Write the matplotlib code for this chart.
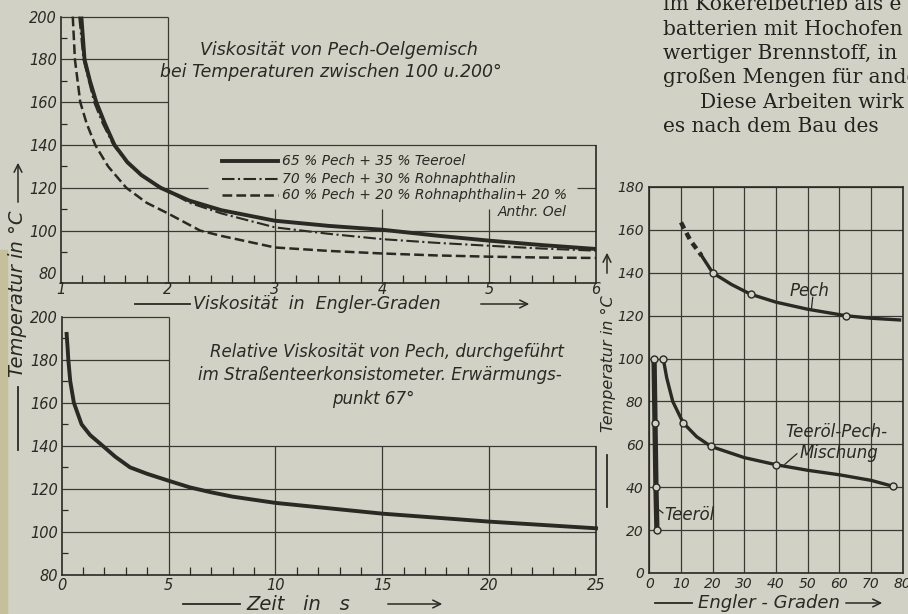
import numpy as np
import matplotlib.pyplot as plt
from matplotlib.lines import Line2D
from matplotlib.patches import FancyArrowPatch, Rectangle

plt.rcParams['lines.scale_dashes'] = False

# ---------------- data ----------------
# upper left: temperature vs. Engler degrees of pitch/oil mixtures
mix_names = ['65 % Pech + 35 % Teeroel',
             '70 % Pech + 30 % Rohnaphthalin',
             '60 % Pech + 20 % Rohnaphthalin+ 20 %']
mix_extra = 'Anthr. Oel'
mix65_e = [1.19, 1.22, 1.27, 1.33, 1.41, 1.50, 1.62, 1.75, 1.93, 2.2, 2.5, 3.0, 3.5, 4.0, 4.5, 5.0, 5.5, 6.0]
mix65_t = [200, 180, 170, 160, 150, 140, 132, 126, 120, 114, 109.5, 104.6, 102.2, 100.4, 97.7, 95.3, 93.2, 91.4]
mix70_e = [1.17, 1.21, 1.26, 1.31, 1.39, 1.49, 1.62, 1.77, 1.96, 2.2, 2.5, 3.0, 3.5, 4.0, 4.5, 5.0, 5.5, 6.0]
mix70_t = [200, 180, 170, 160, 150, 140, 131.5, 125, 119.5, 113, 108, 101.5, 98.5, 96, 94.3, 92.9, 91.6, 90.6]
mix60_e = [1.11, 1.13, 1.18, 1.24, 1.32, 1.44, 1.61, 1.8, 2.0, 2.3, 2.5, 3.0, 3.5, 4.0, 4.5, 5.0, 5.5, 6.0]
mix60_t = [200, 180, 160, 150, 140, 130, 120, 113, 108, 100, 97.5, 92.1, 90.5, 89.3, 88.4, 87.8, 87.4, 87.2]

# lower left: relative viscosity of pitch (time in s)
zeit_s = [0.23, 0.28, 0.31, 0.40, 0.57, 0.93, 1.33, 1.92, 2.5, 3.2, 4.0, 5.0, 6.0, 7.0, 8.0, 10, 12, 15, 20, 25]
zeit_t = [192, 185, 180, 170, 160, 150, 145, 140, 135, 130, 127, 123.8, 120.7, 118.4, 116.4, 113.5, 111.5, 108.5, 104.8, 101.7]

# right: pitch, tar oil and mixture
pech_e = [10, 13, 16.5, 20, 26, 32, 40, 50, 62, 70, 79]
pech_t = [163.5, 155, 148, 140, 134.5, 130, 126.3, 123, 120, 118.8, 118]
pech_marks = [3, 5, 8]
misch_e = [4.4, 5.5, 7.4, 10.7, 15, 19.5, 30, 40, 50, 60, 70, 77]
misch_t = [100, 91, 80, 70, 63.5, 59, 53.8, 50.5, 47.9, 45.8, 43.2, 40.4]
misch_marks = [0, 3, 5, 7, 11]
teer_e = [1.5, 1.8, 2.1, 2.4]
teer_t = [100, 70, 40, 20]

body_lines = ['im Kokereibetrieb als e',
              'batterien mit Hochofen',
              'wertiger Brennstoff, in',
              'großen Mengen für ande',
              'Diese Arbeiten wirk',
              'es nach dem Bau des ']

# ---------------- style ----------------
W, H = 908, 614
BG = '#d1d1c5'
INK = '#2a2a25'
GRID = '#3a3a34'
IT = dict(family='DejaVu Sans', style='italic', color=INK)

fig = plt.figure(figsize=(W / 100, H / 100), dpi=100, facecolor=BG)
fig.patches.append(Rectangle((0, 0), 7 / W, 1 - 250 / H, transform=fig.transFigure,
                             color='#c6bf9c', zorder=0))


def fx(px):
    return px / W


def fy(py):
    return 1 - py / H


def px_axes(l, t, r, b):
    ax = fig.add_axes([fx(l), fy(b), (r - l) / W, (b - t) / H])
    ax.set_facecolor('none')
    return ax


def style_ticks(ax, size):
    for lbl in ax.get_xticklabels() + ax.get_yticklabels():
        lbl.set_fontstyle('italic')
        lbl.set_fontsize(size)
        lbl.set_color(INK)


def hline_fig(x0, x1, y):
    fig.add_artist(Line2D([fx(x0), fx(x1)], [fy(y), fy(y)], color=INK, lw=1.3))


def vline_fig(x, y0, y1):
    fig.add_artist(Line2D([fx(x), fx(x)], [fy(y0), fy(y1)], color=INK, lw=1.3))


def arrow_fig(p0, p1):
    fig.add_artist(FancyArrowPatch((fx(p0[0]), fy(p0[1])), (fx(p1[0]), fy(p1[1])),
                                   transform=fig.transFigure, arrowstyle='->',
                                   mutation_scale=14, color=INK, lw=1.1))


GL = dict(color=GRID, lw=0.9, clip_on=False)

# ---------------- upper left ----------------
ax1 = px_axes(61, 16.6, 596, 283)
ax1.set_xlim(1, 6)
ax1.set_ylim(75.5, 200)
for s in ['top', 'right']:
    ax1.spines[s].set_visible(False)
for s in ['left', 'bottom']:
    ax1.spines[s].set_color(INK)
    ax1.spines[s].set_linewidth(1.2)
ax1.hlines([200, 180, 160], 1, 2, **GL)
ax1.vlines(2, 75.5, 200, **GL)
ax1.hlines([140, 100], 1, 6, **GL)
ax1.hlines(120, 1, 2.37, **GL)
ax1.hlines(120, 5.82, 6, **GL)
ax1.vlines([3, 4, 5], 75.5, 110, **GL)
ax1.vlines(6, 75.5, 140, color=INK, lw=1.2, clip_on=False)

ax1.plot(mix65_e, mix65_t, color=INK, lw=2.8, solid_capstyle='butt', clip_on=False)
l70, = ax1.plot(mix70_e, mix70_t, color=INK, lw=1.5, clip_on=False)
l70.set_dashes([9, 2.5, 1.5, 2.5])
l60, = ax1.plot(mix60_e, mix60_t, color=INK, lw=1.8, clip_on=False)
l60.set_dashes([7, 3])

# legend drawn by hand (third entry wraps, second line right aligned)
leg_t = [132.3, 124.2, 116.4]
for i, (name, t) in enumerate(zip(mix_names, leg_t)):
    ln, = ax1.plot([2.50, 3.03], [t, t], color=INK, lw=[2.8, 1.5, 1.8][i])
    if i == 1:
        ln.set_dashes([9, 2.5, 1.5, 2.5])
    if i == 2:
        ln.set_dashes([7, 3])
    ax1.text(3.065, t, name, va='center', ha='left', fontsize=10, **IT)
ax1.text(5.73, 108.8, mix_extra, va='center', ha='right', fontsize=10, **IT)

ax1.text(3.6, 184.4, 'Viskosität von Pech-Oelgemisch', ha='center', va='center', fontsize=12.5, **IT)
ax1.text(3.52, 174.1, 'bei Temperaturen zwischen 100 u.200°', ha='center', va='center', fontsize=12.5, **IT)

ax1.set_xticks([1, 2, 3, 4, 5, 6])
ax1.set_xticks([v / 5 for v in range(5, 31) if v % 5], minor=True)
ax1.set_yticks([80, 100, 120, 140, 160, 180, 200])
ax1.set_yticks([90, 110, 130, 150, 170, 190], minor=True)
ax1.tick_params(axis='both', which='major', length=0)
ax1.tick_params(axis='x', which='major', pad=-1)
ax1.tick_params(axis='y', which='major', pad=3)
ax1.tick_params(axis='x', which='minor', direction='in', length=6, width=0.9, color=INK)
ax1.tick_params(axis='y', which='minor', direction='in', length=4, width=0.9, color=INK)
style_ticks(ax1, 10.5)

# ---------------- lower left ----------------
ax2 = px_axes(61.7, 316.7, 596, 575)
ax2.set_xlim(0, 25)
ax2.set_ylim(80, 200)
for s in ['top', 'right']:
    ax2.spines[s].set_visible(False)
for s in ['left', 'bottom']:
    ax2.spines[s].set_color(INK)
    ax2.spines[s].set_linewidth(1.2)
ax2.hlines([200, 180, 160], 0, 5, **GL)
ax2.vlines(5, 80, 200, **GL)
ax2.hlines([140, 120, 100], 0, 25, **GL)
ax2.vlines([10, 15, 20], 80, 140, **GL)
ax2.vlines(25, 80, 140, color=INK, lw=1.2, clip_on=False)

ax2.plot(zeit_s, zeit_t, color=INK, lw=2.8, clip_on=False)

ax2.text(15.2, 183.5, 'Relative Viskosität von Pech, durchgeführt', ha='center', va='center', fontsize=12, **IT)
ax2.text(14.9, 172.8, 'im Straßenteerkonsistometer. Erwärmungs-', ha='center', va='center', fontsize=12, **IT)
ax2.text(14.6, 161.6, 'punkt 67°', ha='center', va='center', fontsize=12, **IT)

ax2.set_xticks([0, 5, 10, 15, 20, 25])
ax2.set_xticks([v for v in range(1, 25) if v % 5], minor=True)
ax2.set_yticks([80, 100, 120, 140, 160, 180, 200])
ax2.set_yticks([90, 110, 130, 150, 170, 190], minor=True)
ax2.tick_params(axis='both', which='major', length=0)
ax2.tick_params(axis='x', which='major', pad=2)
ax2.tick_params(axis='y', which='major', pad=3)
ax2.tick_params(axis='x', which='minor', direction='in', length=6, width=0.9, color=INK)
ax2.tick_params(axis='y', which='minor', direction='in', length=4, width=0.9, color=INK)
style_ticks(ax2, 10.5)

# ---------------- right ----------------
ax3 = px_axes(649.3, 187, 902.7, 573)
ax3.set_xlim(0, 80)
ax3.set_ylim(0, 180)
for s in ax3.spines.values():
    s.set_color(INK)
    s.set_linewidth(1.2)
ax3.set_xticks(range(0, 81, 10))
ax3.set_yticks(range(0, 181, 20))
ax3.grid(True, color=GRID, lw=0.9)
ax3.tick_params(axis='both', length=0)
ax3.tick_params(axis='x', pad=3)
ax3.tick_params(axis='y', pad=4)
style_ticks(ax3, 10)

MK = dict(marker='o', ms=5, mfc=BG, mec=INK, mew=1.0, ls='none', zorder=5, clip_on=False)

pd_, = ax3.plot(pech_e[:3], pech_t[:3], color=INK, lw=3.2)
pd_.set_dashes([5, 3.5])
ax3.plot(pech_e[2:], pech_t[2:], color=INK, lw=2.4, clip_on=False)
ax3.plot([pech_e[i] for i in pech_marks], [pech_t[i] for i in pech_marks], **MK)

ax3.plot(misch_e, misch_t, color=INK, lw=2.4, clip_on=False)
ax3.plot([misch_e[i] for i in misch_marks], [misch_t[i] for i in misch_marks], **MK)

ax3.plot(teer_e, teer_t, color=INK, lw=3.8, solid_capstyle='butt', clip_on=False)
ax3.plot(teer_e, teer_t, **MK)

ax3.text(50.7, 131.7, 'Pech', ha='center', va='center', fontsize=12, **IT)
ax3.plot([51.6, 51.2], [128.6, 123.4], color=INK, lw=0.9)
ax3.text(42.8, 65.7, 'Teeröl-Pech-', ha='left', va='center', fontsize=12, **IT)
ax3.text(47.3, 55.8, 'Mischung', ha='left', va='center', fontsize=12, **IT)
ax3.plot([42.8, 46.6], [50.7, 55.6], color=INK, lw=0.9)
ax3.text(4.6, 26.9, 'Teeröl', ha='left', va='center', fontsize=12, **IT)
ax3.plot([3.0, 4.3], [29.5, 28.0], color=INK, lw=0.9)

# ---------------- axis titles (figure level) ----------------
fig.text(fx(18), fy(294), 'Temperatur in °C', rotation=90, ha='center', va='center', fontsize=14, **IT)
vline_fig(18, 387, 450)
arrow_fig((18, 205), (18, 160))

fig.text(fx(193), fy(304), 'Viskosität  in  Engler-Graden', ha='left', va='center', fontsize=12.5, **IT)
hline_fig(135, 190, 304)
arrow_fig((478, 304), (532, 304))

fig.text(fx(246), fy(604), 'Zeit   in   s', ha='left', va='center', fontsize=14, **IT)
hline_fig(183, 240, 604)
arrow_fig((385, 604), (445, 604))

fig.text(fx(608), fy(364), 'Temperatur in °C', rotation=90, ha='center', va='center', fontsize=11.5, **IT)
vline_fig(607, 455, 507)
arrow_fig((607, 276), (607, 250))

fig.text(fx(698), fy(603), 'Engler - Graden', ha='left', va='center', fontsize=13, **IT)
hline_fig(655, 692, 603)
arrow_fig((843, 603), (885, 603))

# ---------------- body text of the page ----------------
for i, line in enumerate(body_lines):
    x0 = 700 if line.startswith('Diese') else 663
    fig.text(fx(x0), fy(5 + i * 24.3), line, family='DejaVu Serif', fontsize=14.5,
             color='#23231f', ha='left', va='center')

fig.savefig('out.png', dpi=100, facecolor=BG)
